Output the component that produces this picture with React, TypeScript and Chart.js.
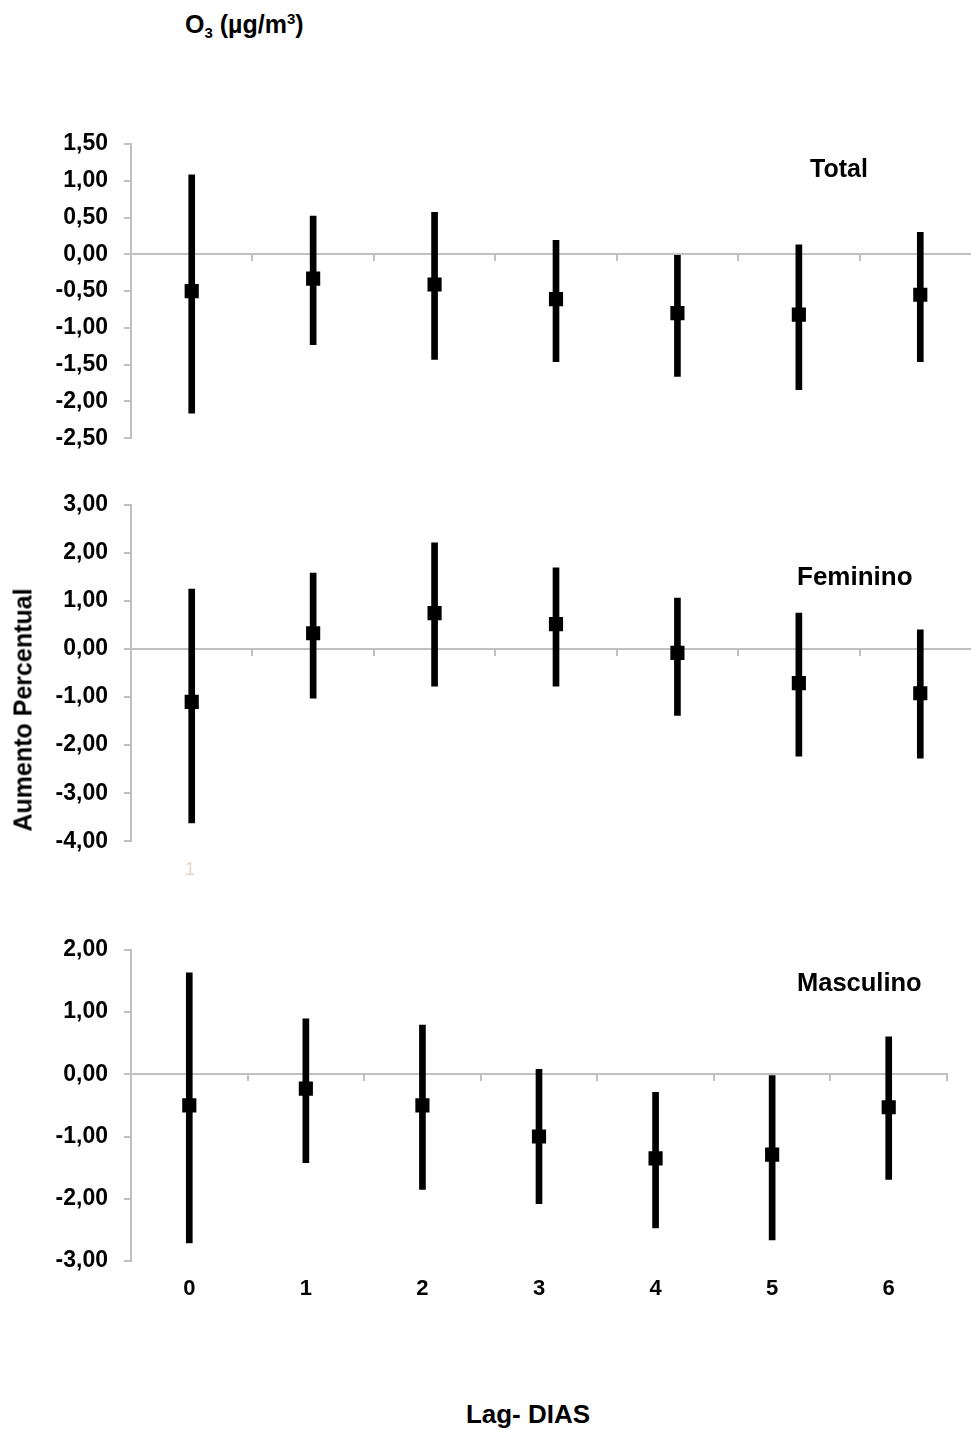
import React, { useEffect, useRef } from "react";
import { Chart, registerables } from "chart.js";

Chart.register(...registerables);

const FONT = "'Liberation Sans', Arial, Helvetica, sans-serif";

const lags = [0, 1, 2, 3, 4, 5, 6];
const lagLabels = ["0", "1", "2", "3", "4", "5", "6"];

const totalEst = [-0.5, -0.33, -0.41, -0.61, -0.8, -0.82, -0.55];
const totalLow = [-2.16, -1.23, -1.43, -1.46, -1.66, -1.84, -1.46];
const totalHigh = [1.08, 0.52, 0.57, 0.19, 0.0, 0.13, 0.3];

const femEst = [-1.1, 0.33, 0.75, 0.52, -0.08, -0.71, -0.92];
const femLow = [-3.62, -1.02, -0.77, -0.77, -1.38, -2.23, -2.27];
const femHigh = [1.25, 1.58, 2.21, 1.69, 1.06, 0.75, 0.4];

const mascEst = [-0.5, -0.23, -0.5, -1.0, -1.35, -1.29, -0.53];
const mascLow = [-2.71, -1.42, -1.85, -2.08, -2.47, -2.66, -1.69];
const mascHigh = [1.63, 0.89, 0.79, 0.08, -0.29, -0.02, 0.6];

const totalTicks = [1.5, 1.0, 0.5, 0, -0.5, -1.0, -1.5, -2.0, -2.5];
const femTicks = [3, 2, 1, 0, -1, -2, -3, -4];
const mascTicks = [2, 1, 0, -1, -2, -3];
const catBounds = [-0.5, 0.5, 1.5, 2.5, 3.5, 4.5, 5.5, 6.5];

const fmt = (v: number) => Number(v).toFixed(2).replace(".", ",");

type PanelProps = {
  est: number[];
  low: number[];
  high: number[];
  yTicks: number[];
  top: number;
  width: number;
  height: number;
  padTop: number;
  padBottom: number;
  padRight: number;
  showXLabels: boolean;
};

function Panel(p: PanelProps) {
  const ref = useRef<HTMLCanvasElement | null>(null);
  useEffect(() => {
    if (!ref.current) return;
    const yMin = Math.min(...p.yTicks);
    const yMax = Math.max(...p.yTicks);
    const scales: any = {
      x: {
        type: "linear",
        min: -0.5,
        max: 6.5,
        offset: false,
        position: { y: 0 },
        afterBuildTicks: (s: any) => {
          s.ticks = catBounds.map((v) => ({ value: v }));
        },
        ticks: { display: false },
        grid: {
          display: true,
          offset: false,
          drawOnChartArea: false,
          drawTicks: true,
          tickLength: 6,
          color: "#c0c0c0",
          lineWidth: 2,
        },
        border: { display: true, color: "#c0c0c0", width: 2 },
      },
      y: {
        type: "linear",
        min: yMin,
        max: yMax,
        position: "left",
        afterBuildTicks: (s: any) => {
          s.ticks = p.yTicks.map((v) => ({ value: v }));
        },
        afterFit: (s: any) => {
          s.width = 131;
        },
        ticks: {
          callback: (v: any) => fmt(v),
          color: "#000",
          font: { family: FONT, size: 23, weight: "bold" },
          padding: 16,
        },
        grid: {
          display: true,
          drawOnChartArea: false,
          drawTicks: true,
          tickLength: 7,
          color: "#c0c0c0",
          lineWidth: 2,
        },
        border: { display: true, color: "#c0c0c0", width: 2 },
      },
    };
    if (p.showXLabels) {
      scales.xl = {
        type: "linear",
        position: "bottom",
        min: -0.5,
        max: 6.5,
        offset: false,
        afterBuildTicks: (s: any) => {
          s.ticks = lags.map((v) => ({ value: v }));
        },
        afterFit: (s: any) => {
          s.height = p.padBottom;
        },
        ticks: {
          callback: (_v: any, i: number) => lagLabels[i],
          color: "#000",
          font: { family: FONT, size: 22, weight: "bold" },
          padding: 15,
          autoSkip: false,
          maxRotation: 0,
        },
        grid: { display: false, drawTicks: false, offset: false },
        border: { display: false },
      };
    }
    const chart = new Chart(ref.current, {
      type: "bar",
      data: {
        datasets: [
          {
            type: "line",
            data: lags.map((x, i) => ({ x, y: p.est[i] })),
            showLine: false,
            pointStyle: "rect",
            pointRadius: 10,
            pointHoverRadius: 10,
            pointBackgroundColor: "#000",
            pointBorderWidth: 0,
            borderColor: "#000",
            order: 0,
            xAxisID: "x",
            yAxisID: "y",
          } as any,
          {
            type: "bar",
            data: lags.map((x, i) => ({ x, y: [p.low[i], p.high[i]] })),
            backgroundColor: "#000",
            barThickness: 6,
            borderWidth: 0,
            order: 1,
            xAxisID: "x",
            yAxisID: "y",
          } as any,
        ],
      },
      options: {
        responsive: false,
        animation: false,
        events: [],
        layout: {
          padding: {
            top: p.padTop,
            bottom: p.showXLabels ? 0 : p.padBottom,
            left: 0,
            right: p.padRight,
          },
        },
        plugins: { legend: { display: false }, tooltip: { enabled: false } },
        scales,
      } as any,
    });
    return () => chart.destroy();
  }, []);
  return (
    <canvas
      ref={ref}
      width={p.width}
      height={p.height}
      style={{ position: "absolute", left: 0, top: p.top, width: p.width, height: p.height }}
    />
  );
}

function Label(props: {
  x: number;
  y: number;
  size: number;
  bold?: boolean;
  align?: "left" | "center";
  color?: string;
  rotate?: boolean;
  children: React.ReactNode;
}) {
  const tx = props.align === "left" ? "0" : "-50%";
  return (
    <div
      style={{
        position: "absolute",
        left: props.x,
        top: props.y,
        transform: `translate(${tx}, -50%)` + (props.rotate ? " rotate(-90deg)" : ""),
        fontFamily: FONT,
        fontSize: props.size,
        fontWeight: props.bold ? "bold" : "normal",
        lineHeight: 1,
        whiteSpace: "nowrap",
        color: props.color || "#000",
      }}
    >
      {props.children}
    </div>
  );
}

export default function App() {
  return (
    <div
      style={{
        position: "absolute",
        left: 0,
        top: 0,
        width: 971,
        height: 1430,
        overflow: "hidden",
        background: "#fff",
      }}
    >
      <Label x={185} y={25} size={25} bold align="left">
        O<sub style={{ fontSize: 15, verticalAlign: "-5px" }}>3</sub> (µg/m
        <sup style={{ fontSize: 15, verticalAlign: "9px" }}>3</sup>)
      </Label>

      <Panel
        est={totalEst}
        low={totalLow}
        high={totalHigh}
        yTicks={totalTicks}
        top={100}
        width={1000}
        height={368}
        padTop={44}
        padBottom={10}
        padRight={19}
        showXLabels={false}
      />
      <Panel
        est={femEst}
        low={femLow}
        high={femHigh}
        yTicks={femTicks}
        top={470}
        width={1000}
        height={401}
        padTop={35}
        padBottom={10}
        padRight={19}
        showXLabels={false}
      />
      <Panel
        est={mascEst}
        low={mascLow}
        high={mascHigh}
        yTicks={mascTicks}
        top={920}
        width={971}
        height={402}
        padTop={29}
        padBottom={61}
        padRight={24}
        showXLabels={true}
      />

      <Label x={810} y={168} size={25} bold align="left">Total</Label>
      <Label x={797} y={576} size={26} bold align="left">Feminino</Label>
      <Label x={797} y={983} size={25.5} bold align="left">Masculino</Label>
      <Label x={190} y={869} size={18} color="#e8d2c4">1</Label>
      <Label x={23} y={710} size={25} bold rotate>Aumento Percentual</Label>
      <Label x={528} y={1414} size={26} bold>Lag- DIAS</Label>
    </div>
  );
}
